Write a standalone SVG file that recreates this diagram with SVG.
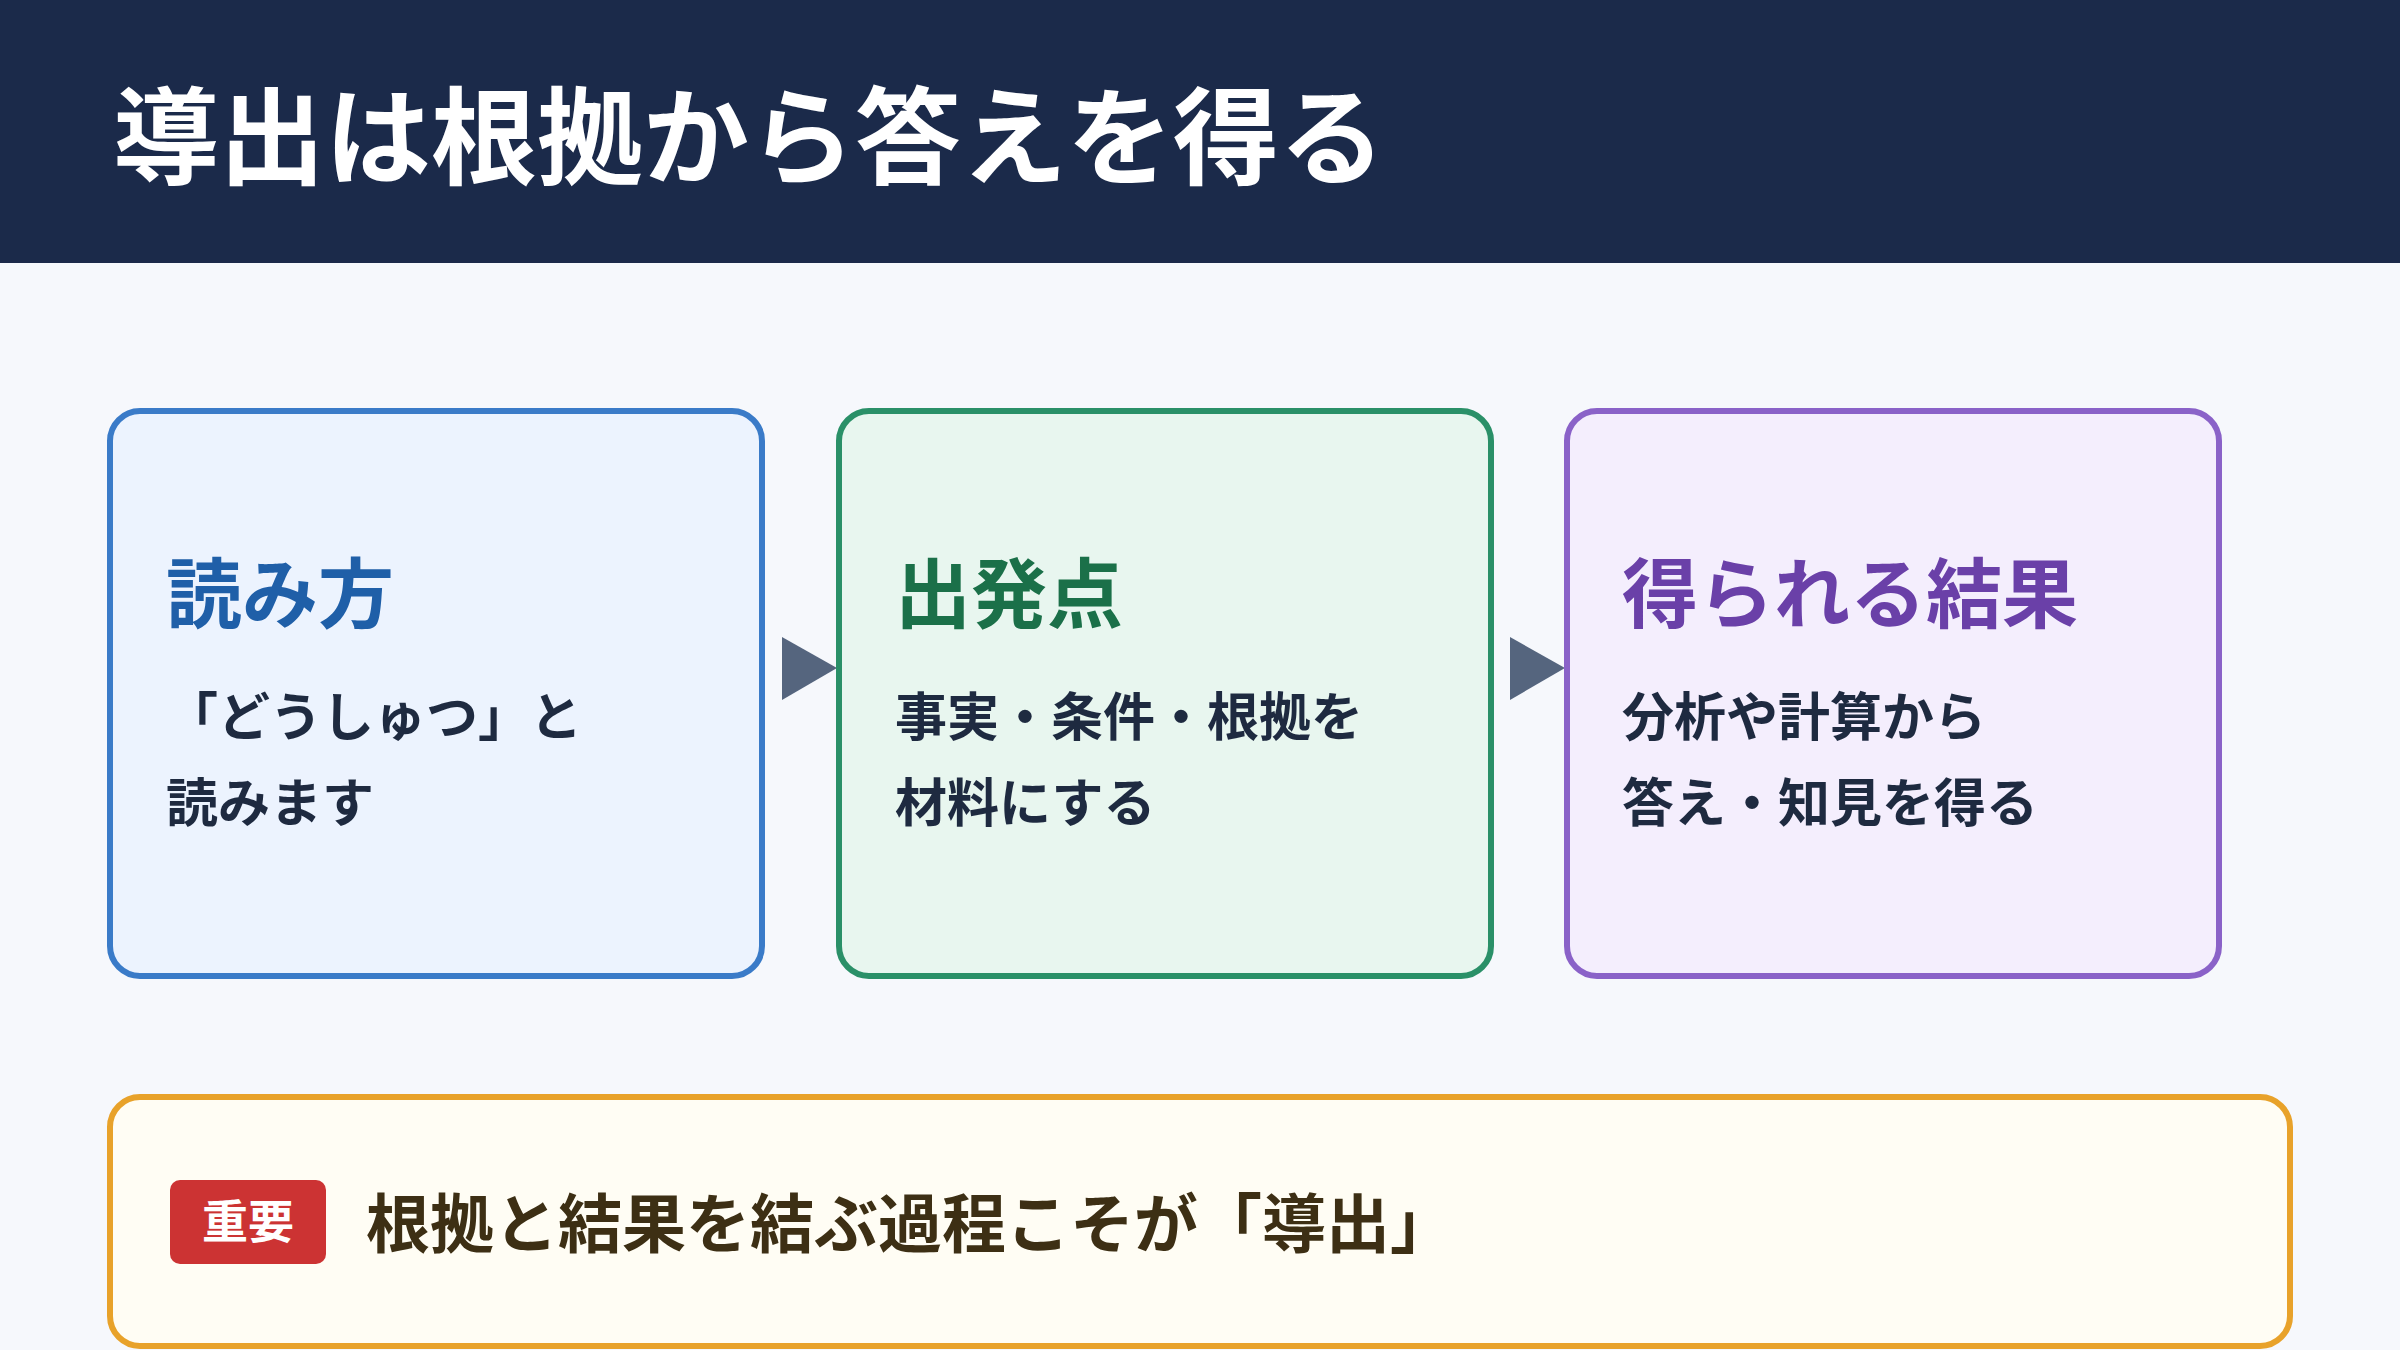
<svg xmlns="http://www.w3.org/2000/svg" width="2400" height="1350" viewBox="0 0 2400 1350">
<style>
text{font-family:"Noto Sans CJK JP","Noto Sans",sans-serif;font-weight:700}
.body{font-size:52px;fill:#1e2a40}
.ttl{font-size:76px}
</style>
<rect width="2400" height="1350" fill="#f6f8fc"/>
<g id="header"><rect width="2400" height="263" fill="#1b2a4a"/>
<text x="113" y="176" font-size="106" fill="#fff">導出は根拠から答えを得る</text></g>
<g id="connectors" fill="#55657e">
<polygon points="782,637 837,668 782,700"/>
<polygon points="1510,637 1565,668 1510,700"/>
</g>
<g id="node1"><rect x="110" y="411" width="652" height="565" rx="30" fill="#ecf3fe" stroke="#3a7bc8" stroke-width="6"/>
<text x="166" y="622" class="ttl" fill="#1f5fa8">読み方</text>
<text x="166" y="736" class="body">「どうしゅつ」と</text>
<text x="166" y="822" class="body">読みます</text></g>
<g id="node2"><rect x="839" y="411" width="652" height="565" rx="30" fill="#e8f6ef" stroke="#2a9068" stroke-width="6"/>
<text x="895" y="622" class="ttl" fill="#1b7049">出発点</text>
<text x="895" y="736" class="body">事実・条件・根拠を</text>
<text x="895" y="822" class="body">材料にする</text></g>
<g id="node3"><rect x="1567" y="411" width="652" height="565" rx="30" fill="#f4eefd" stroke="#8a62c8" stroke-width="6"/>
<text x="1622" y="622" class="ttl" fill="#6a40a8">得られる結果</text>
<text x="1622" y="736" class="body">分析や計算から</text>
<text x="1622" y="822" class="body">答え・知見を得る</text></g>
<g id="note"><rect x="110" y="1097" width="2180" height="249" rx="30" fill="#fffdf4" stroke="#e8a22a" stroke-width="6"/>
<rect x="170" y="1180" width="156" height="84" rx="10" fill="#cc3333"/>
<text x="248" y="1238" font-size="46" fill="#fff" text-anchor="middle">重要</text>
<text x="366" y="1247" font-size="64" fill="#3d2f14">根拠と結果を結ぶ過程こそが「導出」</text></g>
</svg>
